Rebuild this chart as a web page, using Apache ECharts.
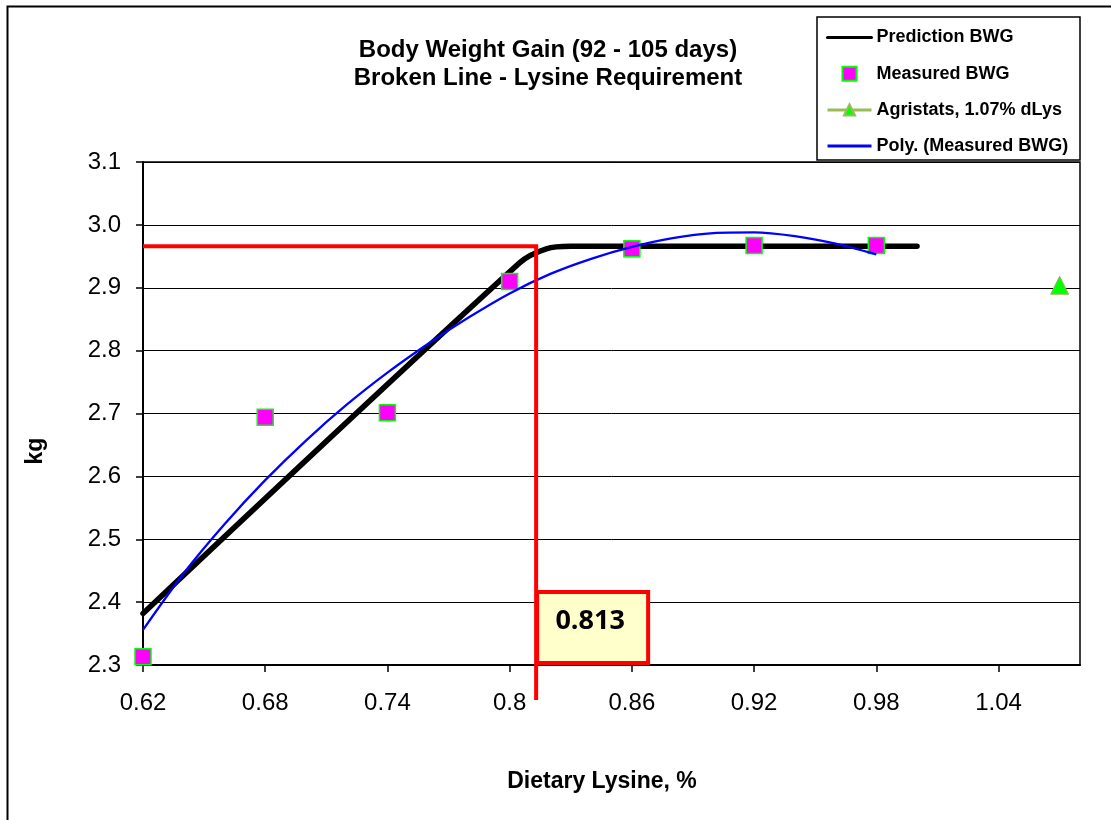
<!DOCTYPE html>
<html>
<head>
<meta charset="utf-8">
<script src="https://cdn.jsdelivr.net/npm/echarts@6/dist/echarts.min.js"></script>
<style>
  html, body { margin: 0; padding: 0; background: #ffffff; }
  #chart { width: 1111px; height: 820px; }
</style>
</head>
<body>
<div id="chart"></div>
<script>
// Measured body weight gain (kg) at each dietary lysine level (%)
const lysine = [0.62, 0.68, 0.74, 0.80, 0.86, 0.92, 0.98];
const measuredBWG = [2.313, 2.694, 2.701, 2.910, 2.962, 2.967, 2.967];

// Broken-line model prediction
const predictionLysine = [0.62, 0.805, 0.818, 0.83, 1.00];
const predictionBWG = [2.382, 2.940, 2.962, 2.966, 2.966];

// Polynomial trend of the measured values
const polyLysine = [0.62, 0.64, 0.66, 0.68, 0.70, 0.72, 0.74, 0.76, 0.78, 0.80,
                    0.82, 0.84, 0.86, 0.88, 0.90, 0.92, 0.94, 0.96, 0.98];
const polyBWG = [2.356, 2.446, 2.524, 2.594, 2.657, 2.714, 2.765, 2.811, 2.853, 2.891,
                 2.922, 2.946, 2.965, 2.979, 2.987, 2.988, 2.982, 2.970, 2.953];

// Industry reference point
const agristatsLysine = [1.07];
const agristatsBWG = [2.904];

// Estimated requirement (breakpoint) and plateau
const requirementLysine = [0.813];
const requirementBWG = [2.966];

// Axis ticks
const xTickLabels = ['0.62', '0.68', '0.74', '0.8', '0.86', '0.92', '0.98', '1.04'];
const yTickLabels = ['2.3', '2.4', '2.5', '2.6', '2.7', '2.8', '2.9', '3.0', '3.1'];
const X_MIN = 0.62, X_MAX = 1.08, X_STEP = 0.06;
const Y_MIN = 2.3, Y_MAX = 3.1, Y_STEP = 0.1;

const zip = (xs, ys) => xs.map((x, i) => [x, ys[i]]);
const tickLabel = (labels, min, step) => v => {
  const i = Math.round((v - min) / step);
  return (Math.abs(min + i * step - v) < 1e-6 && labels[i] !== undefined) ? labels[i] : '';
};

const SANS = "'Liberation Sans', Arial, sans-serif";
const SQUARE = 'path://M0,0L10,0L10,10L0,10Z';

const chart = echarts.init(document.getElementById('chart'), null, { renderer: 'canvas' });

chart.setOption({
  animation: false,
  backgroundColor: '#ffffff',
  grid: {
    left: 143, right: 31, top: 162, bottom: 155,
    show: true, borderColor: '#000', borderWidth: 1.5, backgroundColor: 'transparent'
  },
  xAxis: {
    type: 'value', min: X_MIN, max: X_MAX, interval: X_STEP,
    axisLine: { show: true, onZero: false, lineStyle: { color: '#000', width: 2 } },
    axisTick: { show: true, inside: false, length: 7, lineStyle: { color: '#000', width: 1.5 } },
    axisLabel: {
      margin: 26, color: '#000', fontSize: 24, fontFamily: SANS, showMaxLabel: false,
      formatter: tickLabel(xTickLabels, X_MIN, X_STEP)
    },
    splitLine: { show: false }
  },
  yAxis: {
    type: 'value', min: Y_MIN, max: Y_MAX, interval: Y_STEP,
    axisLine: { show: true, onZero: false, lineStyle: { color: '#000', width: 2 } },
    axisTick: { show: true, inside: false, length: 7, lineStyle: { color: '#000', width: 1.5 } },
    axisLabel: {
      margin: 22, color: '#000', fontSize: 24, fontFamily: SANS,
      formatter: tickLabel(yTickLabels, Y_MIN, Y_STEP)
    },
    splitLine: { show: true, lineStyle: { color: '#000', width: 1 } }
  },
  legend: {
    orient: 'vertical', left: 826, top: 28.5, padding: 0,
    itemWidth: 44, itemHeight: 14, itemGap: 18.2,
    textStyle: { fontFamily: SANS, fontWeight: 'bold', fontSize: 18, color: '#000', lineHeight: 18 },
    data: [
      { name: 'Prediction BWG', lineStyle: { width: 3 }, itemStyle: { opacity: 0 } },
      { name: 'Measured BWG', icon: SQUARE },
      { name: 'Agristats, 1.07% dLys', lineStyle: { width: 3 } },
      { name: 'Poly. (Measured BWG)', lineStyle: { width: 3 }, itemStyle: { opacity: 0 } }
    ]
  },
  graphic: [
    { type: 'rect', shape: { x: 7.5, y: 6.5, width: 1300, height: 1000 },
      style: { fill: 'none', stroke: '#000', lineWidth: 2 }, silent: true },
    { type: 'rect', shape: { x: 817, y: 17, width: 263, height: 143 },
      style: { fill: 'none', stroke: '#000', lineWidth: 1.5 }, silent: true },
    { type: 'text', x: 548, y: 50,
      style: { text: 'Body Weight Gain (92 - 105 days)', align: 'center', verticalAlign: 'middle',
               font: "bold 24px 'Liberation Sans', Arial, sans-serif", fill: '#000' } },
    { type: 'text', x: 548, y: 78,
      style: { text: 'Broken Line - Lysine Requirement', align: 'center', verticalAlign: 'middle',
               font: "bold 24px 'Liberation Sans', Arial, sans-serif", fill: '#000' } },
    { type: 'text', x: 602, y: 782,
      style: { text: 'Dietary Lysine, %', align: 'center', verticalAlign: 'middle',
               font: "bold 23px 'Liberation Sans', Arial, sans-serif", fill: '#000' } },
    { type: 'text', x: 36, y: 451, rotation: Math.PI / 2,
      style: { text: 'kg', align: 'center', verticalAlign: 'middle',
               font: "bold 23px 'Liberation Sans', Arial, sans-serif", fill: '#000' } }
  ],
  series: [
    {
      name: 'Prediction BWG', type: 'line', data: zip(predictionLysine, predictionBWG),
      symbol: 'none', smooth: 0.3, z: 2,
      lineStyle: { color: '#000', width: 5.5, cap: 'round', join: 'round' },
      itemStyle: { color: '#000' }
    },
    {
      name: 'Measured BWG', type: 'scatter', data: zip(lysine, measuredBWG),
      symbol: 'rect', symbolSize: 16, z: 3,
      itemStyle: { color: '#FF00FF', borderColor: '#00FF00', borderWidth: 1.5, opacity: 1 }
    },
    {
      name: 'Agristats, 1.07% dLys', type: 'line', data: zip(agristatsLysine, agristatsBWG),
      symbol: 'triangle', symbolSize: 18, showSymbol: true, z: 3,
      lineStyle: { color: '#9BBB59', width: 3 },
      itemStyle: { color: '#00FF00', borderColor: '#9BBB59', borderWidth: 1 }
    },
    {
      name: 'Poly. (Measured BWG)', type: 'line', data: zip(polyLysine, polyBWG),
      symbol: 'none', smooth: 0.25, z: 4,
      lineStyle: { color: '#0000FF', width: 2.3 },
      itemStyle: { color: '#0000FF' }
    },
    {
      // requirement marker: plateau guide, breakpoint drop line and value box
      type: 'custom', data: zip(requirementLysine, requirementBWG), z: 10, clip: false,
      renderItem: function (params, api) {
        const req = api.value(0), plateau = api.value(1);
        const p = api.coord([req, plateau]);
        const left = api.coord([X_MIN, plateau])[0];
        const bottom = api.coord([req, Y_MIN])[1];
        const red = { stroke: '#FF0000', lineWidth: 4 };
        return {
          type: 'group',
          children: [
            { type: 'line', shape: { x1: left, y1: p[1], x2: p[0] + 2, y2: p[1] }, style: red },
            { type: 'line', shape: { x1: p[0], y1: p[1], x2: p[0], y2: bottom + 35 }, style: red },
            { type: 'rect', shape: { x: p[0] + 1, y: bottom - 73, width: 111, height: 71 },
              style: { fill: '#FFFFCC', stroke: '#FF0000', lineWidth: 4 } },
            { type: 'text', x: p[0] + 54, y: bottom - 44,
              style: { text: String(req), align: 'center', verticalAlign: 'middle',
                       font: "bold 27px 'Open Sans', 'Liberation Sans', sans-serif", fill: '#000' } }
          ]
        };
      }
    }
  ]
});
</script>
</body>
</html>
